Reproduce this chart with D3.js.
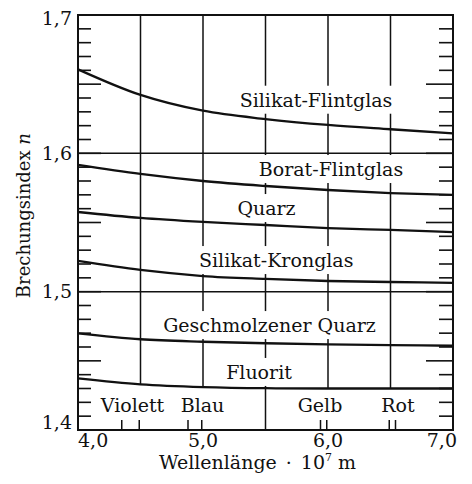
<!DOCTYPE html>
<html>
<head>
<meta charset="utf-8">
<script src="https://cdn.jsdelivr.net/npm/d3@7"></script>
<style>
  body { margin: 0; background: #fff; }
  text { font-family: "DejaVu Serif", serif; fill: #111; }
</style>
</head>
<body>
<div id="grafico"></div>
<script>
// wavelength in 10^-7 m
const wavelengths = [4.0, 4.5, 5.0, 5.5, 6.0, 6.5, 7.0];

const silikatFlint = [1.6607, 1.6422, 1.6308, 1.6248, 1.6205, 1.6174, 1.6145];
const boratFlint   = [1.5916, 1.5851, 1.5800, 1.5764, 1.5735, 1.5713, 1.5699];
const quarz        = [1.5576, 1.5533, 1.5504, 1.5482, 1.5460, 1.5446, 1.5431];
const silikatKron  = [1.5222, 1.5157, 1.5113, 1.5092, 1.5077, 1.5070, 1.5063];
const geschmQuarz  = [1.4699, 1.4656, 1.4638, 1.4627, 1.4619, 1.4614, 1.4609];
const fluorit      = [1.4373, 1.4330, 1.4310, 1.4302, 1.4300, 1.4300, 1.4300];

const seriesNames = ["Silikat-Flintglas", "Borat-Flintglas", "Quarz",
                     "Silikat-Kronglas", "Geschmolzener Quarz", "Fluorit"];
const seriesValues = [silikatFlint, boratFlint, quarz, silikatKron, geschmQuarz, fluorit];

const colourNames = ["Violett", "Blau", "Gelb", "Rot"];
const spectralLines = [4.35, 4.49, 4.88, 4.99, 5.94, 5.99, 6.49, 6.54];

const xTickValues = [4.0, 5.0, 6.0, 7.0];
const yTickValues = [1.4, 1.5, 1.6, 1.7];
const gridX = [4.5, 5.0, 5.5, 6.0, 6.5];
const gridY = [1.5, 1.6];

// label anchor points in data units [wavelength, n at baseline]
const labelPos = {
  "Silikat-Flintglas":   [5.904, 1.6337],
  "Borat-Flintglas":     [6.024, 1.5836],
  "Quarz":               [5.508, 1.5554],
  "Silikat-Kronglas":    [5.586, 1.5178],
  "Geschmolzener Quarz": [5.532, 1.4708],
  "Fluorit":             [5.448, 1.4369],
  "Violett":             [4.436, 1.4127],
  "Blau":                [4.996, 1.4127],
  "Gelb":                [5.936, 1.4127],
  "Rot":                 [6.560, 1.4127]
};

const margin = { top: 15, left: 78, bottom: 54, right: 19 };
const W = 472, H = 484;
const width  = W - margin.left - margin.right;
const height = H - margin.top - margin.bottom;

const svg = d3.select("#grafico")
              .append("svg")
              .attr("width", W)
              .attr("height", H)
              .append("g")
              .attr("transform", `translate(${margin.left}, ${margin.top})`);

const x = d3.scaleLinear().domain([4.0, 7.0]).range([0, width]);
const y = d3.scaleLinear().domain([1.4, 1.7]).range([height, 0]);

const ink = "#111";
const locale = d3.formatLocale({ decimal: ",", thousands: ".", grouping: [3], currency: ["", ""] });
const fmt = locale.format(".1f");

// grid lines
const grid = svg.append("g").attr("stroke", ink).attr("stroke-width", 1.5);
grid.selectAll("line.gy")
    .data(gridY)
    .join("line")
    .attr("x1", 0).attr("x2", width)
    .attr("y1", d => y(d)).attr("y2", d => y(d));
grid.selectAll("line.gx")
    .data(gridX)
    .join("line")
    .attr("x1", d => x(d)).attr("x2", d => x(d))
    .attr("y1", 0)
    .attr("y2", d => d === 5.5 ? height : y(fluorit[wavelengths.indexOf(d)]));

// spectral line markers
svg.append("g")
   .selectAll("line")
   .data(spectralLines)
   .join("line")
   .attr("x1", d => x(d)).attr("x2", d => x(d))
   .attr("y1", height).attr("y2", height - 10)
   .attr("stroke", ink).attr("stroke-width", 1.5);

// labels with white backgrounds (they break the grid lines)
const bgLayer = svg.append("g");
const curveLayer = svg.append("g");
const labelLayer = svg.append("g");

const labels = labelLayer.selectAll("text")
   .data(seriesNames.concat(colourNames))
   .join("text")
   .attr("x", d => x(labelPos[d][0]))
   .attr("y", d => y(labelPos[d][1]))
   .attr("text-anchor", "middle")
   .attr("font-size", 19)
   .text(d => d);

labels.each(function() {
  const b = this.getBBox();
  bgLayer.append("rect")
         .attr("x", b.x - 3).attr("y", b.y - 3)
         .attr("width", b.width + 6).attr("height", b.height + 6)
         .attr("fill", "#fff");
});

// curves
const line = d3.line()
               .x((d, i) => x(wavelengths[i]))
               .y(d => y(d))
               .curve(d3.curveMonotoneX);

curveLayer.selectAll("path")
   .data(seriesValues)
   .join("path")
   .attr("d", d => line(d))
   .attr("fill", "none")
   .attr("stroke", ink)
   .attr("stroke-width", 2.3);

// frame
svg.append("rect")
   .attr("width", width).attr("height", height)
   .attr("fill", "none").attr("stroke", ink).attr("stroke-width", 2);

// inward ticks left and right
const minor = d3.range(141, 170).map(d => d / 100);
const isMajor = d => Math.round(d * 100) % 5 === 0;
svg.append("g")
   .selectAll("line")
   .data(minor)
   .join("line")
   .attr("x1", 0).attr("x2", d => isMajor(d) ? 23 : 13)
   .attr("y1", d => y(d)).attr("y2", d => y(d))
   .attr("stroke", ink).attr("stroke-width", 1.6);
svg.append("g")
   .selectAll("line")
   .data(minor)
   .join("line")
   .attr("x1", width).attr("x2", d => width - (isMajor(d) ? 27 : 14))
   .attr("y1", d => y(d)).attr("y2", d => y(d))
   .attr("stroke", ink).attr("stroke-width", 1.6);

// y tick labels
svg.append("g")
   .selectAll("text")
   .data(yTickValues)
   .join("text")
   .attr("x", -6)
   .attr("y", d => y(d))
   .attr("dy", d => d === 1.7 ? "0.5em" : d === 1.4 ? "-0.05em" : "0.35em")
   .attr("text-anchor", "end")
   .attr("font-size", 19)
   .text(d => fmt(d));

// x tick labels
svg.append("g")
   .selectAll("text")
   .data(xTickValues)
   .join("text")
   .attr("x", d => x(d) + (d === 7.0 ? 4 : 0))
   .attr("y", height + 17)
   .attr("text-anchor", (d, i) => i === 0 ? "start" : i === xTickValues.length - 1 ? "end" : "middle")
   .attr("font-size", 19)
   .text(d => fmt(d));

// axis titles
const xt = svg.append("text")
   .attr("x", x(5.436))
   .attr("y", height + 39)
   .attr("text-anchor", "middle")
   .attr("font-size", 19);
xt.append("tspan").text("Wellenlänge");
xt.append("tspan").attr("dx", 9).text("·");
xt.append("tspan").attr("dx", 9).text("10");
xt.append("tspan").attr("font-size", 11).attr("dy", -8).text("7");
xt.append("tspan").attr("dy", 8).attr("dx", 6).text("m");

const yt = svg.append("text")
   .attr("transform", `translate(${-48}, ${y(1.555)}) rotate(-90)`)
   .attr("text-anchor", "middle")
   .attr("font-size", 18);
yt.append("tspan").text("Brechungsindex ");
yt.append("tspan").attr("font-style", "italic").text("n");
</script>
</body>
</html>
